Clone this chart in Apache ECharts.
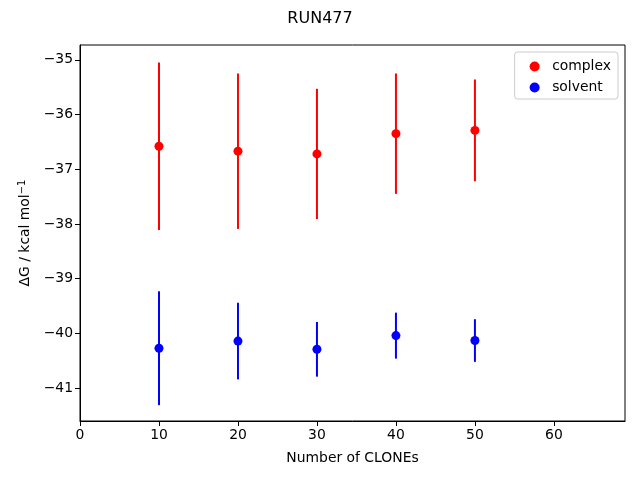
<!DOCTYPE html>
<html><head><meta charset="utf-8">
<script src="https://cdn.jsdelivr.net/npm/echarts@6/dist/echarts.min.js"></script>
<style>html,body{margin:0;padding:0;background:#fff}#c{width:640px;height:480px}</style>
</head><body><div id="c"></div>
<script>
const clones = [10, 20, 30, 40, 50];
const complexMean = [-36.58, -36.67, -36.72, -36.35, -36.29];
const complexErr = [1.53, 1.42, 1.19, 1.10, 0.93];
const solventMean = [-40.27, -40.14, -40.29, -40.04, -40.13];
const solventErr = [1.04, 0.70, 0.50, 0.42, 0.39];
const xTicks = [0, 10, 20, 30, 40, 50, 60];
const yTicks = [-41, -40, -39, -38, -37, -36, -35];

const font = 'DejaVu Sans';
const fs = 13.9;
const fmt = v => String(v).replace('-', '\u2212');

function errSeries(name, means, errs, color) {
  return {
    type: 'custom', name: name + '_err', silent: true, z: 2,
    data: clones.map((x, i) => [x, means[i] - errs[i], means[i] + errs[i]]),
    renderItem: function (params, api) {
      const p1 = api.coord([api.value(0), api.value(1)]);
      const p2 = api.coord([api.value(0), api.value(2)]);
      return { type: 'line', shape: { x1: p1[0], y1: p1[1], x2: p2[0], y2: p2[1] },
        style: { stroke: color, lineWidth: 2 } };
    }
  };
}

const chart = echarts.init(document.getElementById('c'), null, { renderer: 'canvas' });
chart.setOption({
  animation: false,
  backgroundColor: '#fff',
  title: { text: 'RUN477', left: 'center', top: 6,
    textStyle: { fontFamily: font, fontSize: 16, fontWeight: 'normal', color: '#000' } },
  legend: {
    right: 22, top: 52, orient: 'vertical', itemGap: 6, itemWidth: 25, itemHeight: 10,
    padding: [7, 7, 4, 15], borderColor: '#cccccc', borderWidth: 1, borderRadius: 3,
    textStyle: { fontFamily: font, fontSize: fs, color: '#000', lineHeight: 15 },
    data: [{ name: 'complex', icon: 'circle' }, { name: 'solvent', icon: 'circle' }]
  },
  grid: { left: 80, right: 15, top: 45, bottom: 59, show: true, borderColor: '#000', borderWidth: 1 },
  xAxis: {
    type: 'value', min: 0, max: 69, interval: 10,
    name: 'Number of CLONEs', nameLocation: 'middle', nameGap: 30,
    nameTextStyle: { fontFamily: font, fontSize: fs, color: '#000' },
    splitLine: { show: false },
    axisLine: { lineStyle: { color: '#000' } },
    axisTick: { length: 5, lineStyle: { color: '#000' }, customValues: xTicks },
    axisLabel: { fontFamily: font, fontSize: fs, color: '#000', margin: 7, customValues: xTicks, formatter: fmt }
  },
  yAxis: {
    type: 'value', min: -41.6, max: -34.73,
    name: '{n|\u0394G / kcal mol}{s|\u22121}', nameLocation: 'middle', nameGap: 47,
    nameTextStyle: { fontFamily: font, fontSize: fs, color: '#000',
      rich: { n: { fontFamily: font, fontSize: fs, color: '#000' },
              s: { fontFamily: font, fontSize: 10, color: '#000', verticalAlign: 'top', padding: [0, 0, 6, 0] } } },
    splitLine: { show: false },
    axisLine: { show: true, lineStyle: { color: '#000' } },
    axisTick: { show: true, length: 5, lineStyle: { color: '#000' }, customValues: yTicks },
    axisLabel: { fontFamily: font, fontSize: fs, color: '#000', margin: 7, customValues: yTicks, formatter: fmt }
  },
  series: [
    errSeries('complex', complexMean, complexErr, '#ff0000'),
    errSeries('solvent', solventMean, solventErr, '#0000ff'),
    { type: 'scatter', name: 'complex', symbol: 'circle', symbolSize: 9, z: 3,
      itemStyle: { color: '#ff0000', opacity: 1 }, data: clones.map((x, i) => [x, complexMean[i]]) },
    { type: 'scatter', name: 'solvent', symbol: 'circle', symbolSize: 9, z: 3,
      itemStyle: { color: '#0000ff', opacity: 1 }, data: clones.map((x, i) => [x, solventMean[i]]) }
  ]
});
</script></body></html>
